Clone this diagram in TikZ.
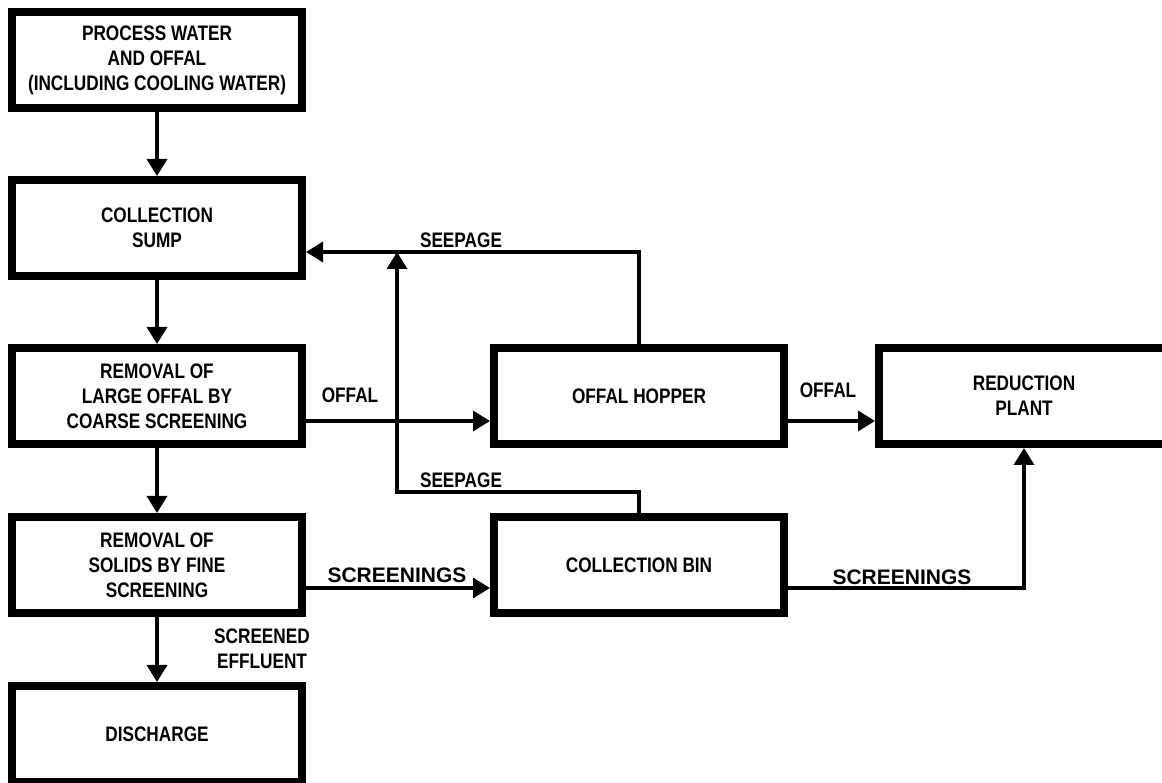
\documentclass[tikz,border=0pt]{standalone}
\usepackage{fontspec}
\usetikzlibrary{arrows.meta, calc}
\newfontfamily\narrowfont{Liberation Sans}[FakeStretch=0.82]
\newfontfamily\widefont{Liberation Sans}

\begin{document}
\begin{tikzpicture}[x=1pt, y=1pt, >={Triangle[length=17pt, width=20pt]},
    box/.style={draw, line width=8pt, minimum width=290pt, minimum height=96pt,
        inner sep=0pt, align=center, font=\fontsize{21}{25}\narrowfont\bfseries},
    flow/.style={->, line width=3.5pt},
    lbl/.style={inner sep=0pt, align=center, font=\fontsize{21}{25}\narrowfont\bfseries},
    widelbl/.style={inner sep=0pt, font=\fontsize{21}{25}\widefont\bfseries}]
            % Page frame
            \clip (0,0) rectangle (1162,782);

            % Left column
            \node[box] (process) at (157,722) {PROCESS WATER\\AND OFFAL\\(INCLUDING COOLING WATER)};
            \node[box] (sump) at (157,554) {COLLECTION\\SUMP};
            \node[box] (coarse) at (157,386) {REMOVAL OF\\LARGE OFFAL BY\\COARSE SCREENING};
            \node[box] (fine) at (157,217) {REMOVAL OF\\SOLIDS BY FINE\\SCREENING};
            \node[box] (discharge) at (157,48) {DISCHARGE};

            % Right boxes
            \node[box] (hopper) at (639,386) {OFFAL HOPPER};
            \node[box] (bin) at (639,217) {COLLECTION BIN};
            \node[box] (plant) at (1024,386) {REDUCTION\\PLANT};

            % Main flow
            \draw[flow] (process) -- (sump);
            \draw[flow] (sump) -- (coarse);
            \draw[flow] (coarse) -- (fine);
            \draw[flow] (fine) -- (discharge);
            \draw[flow] ($(coarse.east)+(0,-25)$) -- ($(hopper.west)+(0,-25)$);
            \draw[flow] ($(hopper.east)+(0,-25)$) -- ($(plant.west)+(0,-25)$);
            \draw[flow] ($(fine.east)+(0,-23)$) -- ($(bin.west)+(0,-23)$);
            \draw[flow] ($(bin.east)+(0,-23)$) -| (plant.south);

            % Seepage returns
            \coordinate (seepbend) at (397,290);
            \coordinate (seepjoin) at (397,530);
            \draw[flow] (hopper.north) |- ($(sump.east)+(0,-24)$);
            \draw[flow] (bin.north) |- (seepbend) -- (seepjoin);

            % Labels
            \node[lbl] (offalA) at (350,386.5) {OFFAL};
            \node[lbl] (offalB) at (828,392) {OFFAL};
            \node[lbl] (seepA) at (461,542) {SEEPAGE};
            \node[lbl] (seepB) at (461,301.5) {SEEPAGE};
            \node[widelbl] (screenA) at (397,206.5) {SCREENINGS};
            \node[widelbl] (screenB) at (902,204.5) {SCREENINGS};
            \node[lbl] (effluent) at (262,133.5) {SCREENED\\EFFLUENT};
        \end{tikzpicture}
\end{document}
